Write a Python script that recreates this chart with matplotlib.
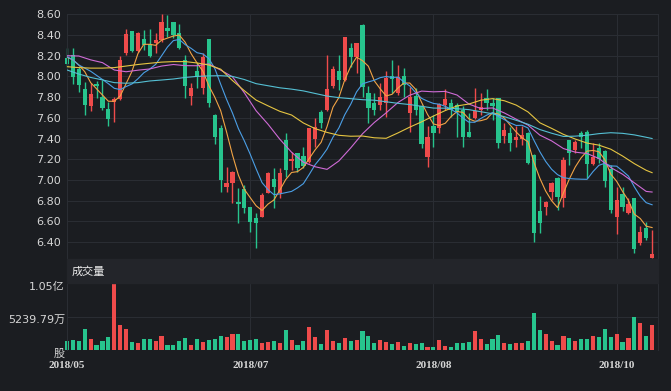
import numpy as np
import matplotlib
matplotlib.use('Agg')
import matplotlib.pyplot as plt
from matplotlib.transforms import offset_copy

plt.rcParams['font.family'] = ['DejaVu Sans', 'Noto Sans CJK SC']

# daily candles (red = up, green = down)
opens = [8.175, 8.207, 8.072, 7.875, 7.714, 7.927, 7.805, 7.685, 7.750, 7.782,
         8.223, 8.439, 8.249, 8.358, 8.313, 8.320, 8.352, 8.465, 8.529, 8.416,
         8.159, 7.814, 8.056, 7.885, 8.358, 7.627, 7.499, 6.935, 6.974, 6.784,
         6.909, 6.742, 6.629, 6.639, 6.871, 7.006, 6.871, 7.386, 7.183, 7.257,
         7.231, 7.176, 7.392, 7.660, 7.676, 7.908, 8.056, 7.966, 8.271, 8.191,
         8.497, 7.843, 7.747, 7.724, 7.740, 8.004, 7.837, 8.004, 7.644, 7.811,
         7.714, 7.225, 7.521, 7.499, 7.724, 7.740, 7.724, 7.676, 7.460, 7.595,
         7.676, 7.795, 7.747, 7.790, 7.424, 7.457, 7.386, 7.392, 7.450, 7.241,
         6.703, 6.742, 6.887, 7.015, 6.822, 7.386, 7.289, 7.457, 7.466, 7.154,
         7.305, 7.280, 7.102, 6.645, 6.864, 6.677, 6.822, 6.387, 6.532, 6.249]
highs = [8.270, 8.270, 8.094, 7.950, 7.933, 7.956, 7.966, 7.756, 7.805, 8.197,
         8.455, 8.439, 8.433, 8.449, 8.455, 8.416, 8.600, 8.594, 8.529, 8.507,
         8.207, 7.933, 8.127, 8.223, 8.358, 7.634, 7.530, 7.128, 7.090, 6.919,
         6.951, 6.742, 6.677, 6.877, 7.080, 7.112, 7.112, 7.450, 7.273, 7.257,
         7.321, 7.505, 7.595, 7.676, 8.207, 8.101, 8.207, 8.378, 8.326, 8.326,
         8.507, 7.908, 7.837, 7.933, 8.056, 8.159, 8.110, 8.078, 7.895, 7.885,
         7.724, 7.521, 7.627, 7.740, 7.875, 7.780, 7.747, 7.714, 7.644, 7.885,
         7.837, 7.875, 7.790, 7.795, 7.547, 7.515, 7.521, 7.521, 7.466, 7.250,
         6.845, 6.800, 6.983, 7.025, 7.225, 7.390, 7.386, 7.473, 7.482, 7.360,
         7.354, 7.290, 7.144, 6.929, 6.929, 6.822, 6.830, 6.555, 6.597, 6.513]
lows = [8.094, 7.924, 7.853, 7.627, 7.669, 7.788, 7.676, 7.521, 7.563, 7.772,
        8.207, 8.239, 8.239, 8.255, 8.191, 8.223, 8.336, 8.384, 8.368, 8.265,
        7.795, 7.724, 7.885, 7.827, 7.701, 7.347, 6.886, 6.887, 6.780, 6.580,
        6.677, 6.500, 6.339, 6.639, 6.871, 6.726, 6.822, 7.032, 7.096, 7.080,
        7.112, 7.160, 7.321, 7.499, 7.669, 7.885, 7.869, 7.959, 8.094, 8.030,
        7.805, 7.553, 7.627, 7.676, 7.611, 7.837, 7.820, 7.805, 7.466, 7.627,
        7.305, 7.128, 7.321, 7.457, 7.676, 7.611, 7.412, 7.321, 7.412, 7.585,
        7.627, 7.676, 7.579, 7.305, 7.360, 7.283, 7.321, 7.338, 7.154, 6.400,
        6.490, 6.661, 6.806, 6.710, 6.735, 7.144, 7.263, 7.305, 7.015, 7.144,
        7.160, 6.935, 6.677, 6.478, 6.703, 6.670, 6.297, 6.371, 6.420, 6.243]
closes = [8.117, 7.998, 7.917, 7.727, 7.830, 7.908, 7.698, 7.589, 7.782, 8.159,
          8.407, 8.249, 8.416, 8.304, 8.197, 8.352, 8.529, 8.442, 8.400, 8.271,
          7.908, 7.891, 7.991, 8.191, 7.740, 7.412, 7.000, 6.974, 7.080, 6.767,
          6.726, 6.597, 6.581, 6.854, 7.070, 6.929, 7.064, 7.096, 7.199, 7.112,
          7.135, 7.499, 7.515, 7.553, 7.875, 8.069, 7.966, 8.378, 8.191, 8.326,
          7.901, 7.692, 7.676, 7.805, 7.982, 7.978, 7.998, 7.917, 7.805, 7.676,
          7.347, 7.418, 7.457, 7.730, 7.782, 7.676, 7.660, 7.412, 7.418, 7.669,
          7.701, 7.740, 7.714, 7.354, 7.482, 7.354, 7.412, 7.434, 7.160, 6.490,
          6.587, 6.790, 6.967, 6.832, 7.193, 7.263, 7.370, 7.412, 7.154, 7.225,
          7.199, 6.993, 6.710, 6.806, 6.735, 6.767, 6.329, 6.500, 6.436, 6.281]
# volume in millions of shares
volumes = [14.7, 15.7, 14.7, 32.5, 16.8, 7.9, 14.7, 19.9, 104.8, 39.3,
           33.0, 13.1, 11.5, 17.3, 17.8, 14.7, 22.0, 8.4, 7.3, 13.6,
           19.4, 8.4, 16.8, 13.1, 15.7, 17.3, 22.0, 21.0, 25.2, 24.6,
           14.7, 15.7, 16.8, 11.5, 13.1, 14.7, 11.5, 31.4, 15.7, 7.9,
           14.2, 35.6, 19.9, 9.4, 31.4, 14.7, 10.5, 18.3, 14.7, 15.7,
           29.9, 22.0, 10.5, 15.7, 13.1, 9.4, 13.1, 6.8, 11.5, 9.4,
           10.5, 5.2, 5.2, 15.7, 6.3, 4.2, 10.5, 10.5, 13.1, 29.9,
           16.8, 8.9, 17.8, 24.1, 10.5, 9.4, 10.5, 10.5, 13.6, 58.2,
           31.4, 25.2, 14.2, 7.3, 22.5, 18.3, 14.7, 17.8, 16.8, 22.5,
           21.0, 33.5, 21.0, 25.2, 12.6, 18.9, 51.9, 43.0, 22.0, 39.8]

# moving averages as drawn (MA5 / MA10 every day, slower ones every other day)
ma5 = [8.185, 8.16, 8.11, 8.046, 7.94, 7.88, 7.82, 7.76, 7.76, 7.81,
       7.93, 8.05, 8.22, 8.31, 8.31, 8.30, 8.35, 8.37, 8.39, 8.40,
       8.33, 8.22, 8.13, 8.05, 7.91, 7.80, 7.67, 7.463, 7.241, 7.047,
       6.909, 6.829, 6.750, 6.705, 6.766, 6.806, 6.900, 7.003, 7.072, 7.080,
       7.121, 7.208, 7.292, 7.363, 7.515, 7.702, 7.796, 7.968, 8.096, 8.186,
       8.152, 8.098, 7.957, 7.880, 7.811, 7.827, 7.888, 7.936, 7.936, 7.875,
       7.749, 7.633, 7.541, 7.526, 7.547, 7.613, 7.661, 7.652, 7.590, 7.567,
       7.572, 7.588, 7.648, 7.636, 7.598, 7.529, 7.463, 7.407, 7.368, 7.170,
       7.017, 6.892, 6.799, 6.733, 6.874, 7.009, 7.125, 7.214, 7.278, 7.285,
       7.272, 7.197, 7.056, 6.987, 6.889, 6.802, 6.669, 6.627, 6.553, 6.54]
ma10 = [8.19, 8.16, 8.11, 8.08, 8.05, 8.01, 7.97, 7.93, 7.885, 7.873,
        7.902, 7.927, 7.977, 8.035, 8.071, 8.116, 8.199, 8.284, 8.346, 8.357,
        8.307, 8.271, 8.229, 8.217, 8.172, 8.078, 7.925, 7.778, 7.646, 7.496,
        7.378, 7.248, 7.107, 6.974, 6.907, 6.858, 6.865, 6.877, 6.889, 6.923,
        6.964, 7.054, 7.148, 7.218, 7.298, 7.412, 7.502, 7.630, 7.730, 7.851,
        7.928, 7.947, 7.963, 7.988, 7.999, 7.990, 7.993, 7.947, 7.908, 7.843,
        7.788, 7.761, 7.739, 7.731, 7.711, 7.681, 7.647, 7.597, 7.558, 7.557,
        7.593, 7.625, 7.651, 7.613, 7.583, 7.551, 7.526, 7.528, 7.502, 7.384,
        7.273, 7.178, 7.103, 7.051, 7.022, 7.013, 7.009, 7.007, 7.006, 7.080,
        7.141, 7.161, 7.135, 7.133, 7.087, 7.037, 6.933, 6.842, 6.78, 6.76]
ma_slow_days = list(range(0, 100, 2)) + [99]
ma20 = [8.20, 8.197, 8.16, 8.133, 8.062, 8.045, 8.06, 8.072, 8.10, 8.115,
        8.104, 8.103, 8.121, 8.061, 7.996, 7.842, 7.668, 7.539, 7.394, 7.267,
        7.171, 7.127, 7.102, 7.183, 7.309, 7.446, 7.555, 7.648, 7.748, 7.819,
        7.858, 7.851, 7.855, 7.820, 7.733, 7.690, 7.695, 7.647, 7.587, 7.530,
        7.433, 7.377, 7.303, 7.268, 7.255, 7.207, 7.120, 7.055, 6.972, 6.889, 6.883]
ma30 = [8.094, 8.085, 8.08, 8.08, 8.085, 8.10, 8.115, 8.127, 8.138, 8.143,
        8.143, 8.13, 8.11, 8.07, 7.96, 7.862, 7.771, 7.716, 7.663, 7.627,
        7.550, 7.495, 7.459, 7.431, 7.422, 7.424, 7.407, 7.402, 7.454, 7.510,
        7.561, 7.617, 7.670, 7.715, 7.733, 7.770, 7.785, 7.765, 7.723, 7.657,
        7.552, 7.498, 7.440, 7.395, 7.356, 7.336, 7.297, 7.231, 7.157, 7.093, 7.07]
ma60 = [8.062, 8.023, 7.99, 7.966, 7.94, 7.934, 7.94, 7.956, 7.965, 7.975,
        7.99, 8.0, 8.005, 8.007, 8.0, 7.97, 7.93, 7.91, 7.89, 7.877,
        7.86, 7.835, 7.81, 7.795, 7.785, 7.775, 7.77, 7.755, 7.74, 7.728,
        7.711, 7.694, 7.693, 7.688, 7.679, 7.659, 7.639, 7.611, 7.576, 7.538,
        7.487, 7.451, 7.420, 7.423, 7.432, 7.447, 7.456, 7.450, 7.435, 7.412, 7.40]

date_label_days = [0, 31, 62, 93]
date_labels = ['2018/05', '2018/07', '2018/08', '2018/10']
price_ticks = [6.40, 6.60, 6.80, 7.00, 7.20, 7.40, 7.60, 7.80, 8.00, 8.20, 8.40, 8.60]
vol_ticks = [0, 52.3979, 104.7958]
vol_tick_labels = ['股', '5239.79万', '1.05亿']

bg = '#1b1d21'
grid_c = '#2a2d33'
up_c = '#ef4b4b'
down_c = '#27c48d'
text_c = '#d6d6d6'

W, H = 671, 391
fig = plt.figure(figsize=(W / 100, H / 100), dpi=100, facecolor=bg)


def px_axes(x0, y0, x1, y1):
    return fig.add_axes([x0 / W, 1 - y1 / H, (x1 - x0) / W, (y1 - y0) / H])


days = np.arange(len(closes))
o = np.array(opens)
c = np.array(closes)
colors = [up_c if cc >= oo else down_c for oo, cc in zip(o, c)]
body_bottom = np.minimum(o, c)
body_h = np.maximum(np.abs(c - o), 0.008)

# ---- price panel
ax = px_axes(67, 14.3, 658, 259)
ax.set_facecolor(bg)
ax.vlines(days, lows, highs, colors=colors, lw=1, zorder=2, clip_on=False)
ax.bar(days, body_h, bottom=body_bottom, width=0.72, color=colors, lw=0, zorder=2, clip_on=False)

ax.plot(days, ma5, color='#f2a445', lw=0.8, zorder=3)
ax.plot(days, ma10, color='#4b9fe6', lw=0.8, zorder=3)
ax.plot(ma_slow_days, ma20, color='#cf6bd6', lw=0.8, zorder=3)
ax.plot(ma_slow_days, ma30, color='#e6c542', lw=0.8, zorder=3)
ax.plot(ma_slow_days, ma60, color='#55c0d4', lw=0.8, zorder=3)

ax.set_xlim(0, 100)
ax.set_ylim(6.236, 8.60)
ax.set_yticks(price_ticks)
ax.set_yticklabels(['%.2f' % t for t in price_ticks])
ax.set_xticks(date_label_days)
ax.set_xticklabels([])
ax.tick_params(axis='both', length=0, colors=text_c, labelsize=8)
ax.tick_params(axis='y', pad=4.3)
ax.grid(True, color=grid_c, lw=0.8, zorder=0)
ax.set_axisbelow(True)
for side in ['top', 'bottom']:
    ax.spines[side].set_visible(False)
for side in ['left', 'right']:
    ax.spines[side].set_color(grid_c)

# ---- "成交量" header band
band = plt.Rectangle((67 / W, 1 - 283.4 / H), (658 - 67) / W, (283.4 - 259) / H,
                     transform=fig.transFigure, color='#23252a', zorder=0)
fig.patches.append(band)
fig.text(72 / W, 1 - 271.5 / H, '成交量', color='#ececec', fontsize=8,
         family=['Noto Sans CJK SC'], va='center', ha='left')

# ---- volume panel
axv = px_axes(67, 283.4, 658, 350)
axv.set_facecolor(bg)
axv.bar(days, volumes, width=0.7, color=colors, lw=0, zorder=2, clip_on=False)
axv.set_xlim(0, 100)
axv.set_ylim(0, 104.7958)
axv.set_yticks(vol_ticks)
axv.set_yticklabels([])
axv.set_xticks(date_label_days)
axv.set_xticklabels(date_labels, family='Liberation Serif', fontweight='bold', fontsize=8)
axv.tick_params(axis='both', length=0, colors=text_c)
axv.tick_params(axis='x', pad=8)
axv.grid(True, color=grid_c, lw=0.8, zorder=0)
axv.set_axisbelow(True)
for side in ['top', 'bottom']:
    axv.spines[side].set_visible(False)
for side in ['left', 'right']:
    axv.spines[side].set_color(grid_c)

lab_trans = offset_copy(axv.get_yaxis_transform(), fig=fig, x=-2, y=-3.5, units='dots')
for v, s in zip(vol_ticks, vol_tick_labels):
    axv.text(0, v, s, transform=lab_trans, ha='right', va='center', color=text_c, fontsize=8)

fig.savefig('out.png', dpi=100, facecolor=bg)
